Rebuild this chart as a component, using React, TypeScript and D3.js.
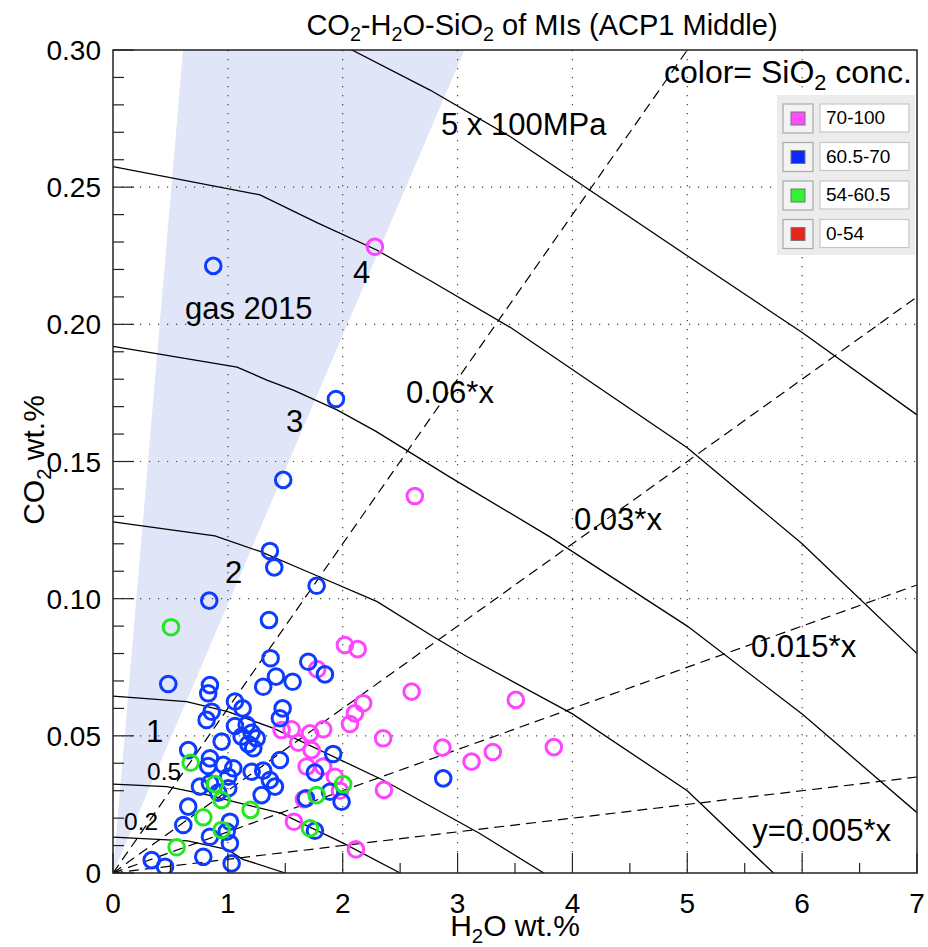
import React from "react";
import * as d3 from "d3";

const W = 928;
const H = 947;
const PLOT = { left: 113, right: 917, top: 50, bottom: 873 };

// axis ticks
const xTickValues = [0, 1, 2, 3, 4, 5, 6, 7];
const yTickValues = [0, 0.05, 0.1, 0.15, 0.2, 0.25, 0.3];
const yTickLabels = ["0", "0.05", "0.10", "0.15", "0.20", "0.25", "0.30"];
const xGrid = [1, 2, 3, 4, 5, 6];
const yGrid = [0.05, 0.1, 0.15, 0.2, 0.25];

// SiO2 classes (legend)
const classLabels = ["70-100", "60.5-70", "54-60.5", "0-54"];
const classSwatch = ["#ff4cff", "#0a28ff", "#33f233", "#e6281c"];

// gas 2015 wedge [H2O, CO2]
const gasRegion: [number, number][] = [
  [0, 0],
  [0.61, 0.3],
  [3.06, 0.3],
];

// CO2/H2O ratio lines
const ratioLines = [0.005, 0.015, 0.03, 0.06];

// isobars (x 100 MPa) [H2O, CO2]
const isobar02: [number, number][] = [[0, 0.0131], [0.65, 0.0117], [1.0, 0.0085], [1.13, 0.005], [1.5, 0]];
const isobar05: [number, number][] = [[0, 0.0324], [0.47, 0.0315], [0.85, 0.0282], [1.05, 0.026], [1.46, 0.0218], [2.0, 0.011], [2.5, 0]];
const isobar1: [number, number][] = [[0, 0.0645], [0.64, 0.0625], [1.0, 0.0588], [1.4, 0.0527], [2.35, 0.0339], [3.19, 0.0145], [3.75, 0]];
const isobar2: [number, number][] = [[0, 0.128], [0.887, 0.1229], [1.28, 0.1172], [1.74, 0.109], [2.3, 0.0989], [2.79, 0.0861], [3.08, 0.0789], [4.0, 0.058], [5.0, 0.03], [5.75, 0]];
const isobar3: [number, number][] = [[0, 0.192], [1.08, 0.1844], [1.34, 0.1797], [1.57, 0.176], [1.95, 0.1688], [2.29, 0.161], [2.93, 0.1444], [3.8, 0.1226], [5.0, 0.09], [6.0, 0.058], [7.0, 0.022]];
const isobar4: [number, number][] = [[0, 0.2575], [1.28, 0.2472], [1.78, 0.237], [2.3, 0.227], [2.76, 0.216], [3.455, 0.199], [5.0, 0.155], [6.0, 0.12], [7.0, 0.08]];
const isobar5: [number, number][] = [[0, 0.322], [1.28, 0.313], [2.08, 0.3], [2.76, 0.2854], [3.46, 0.2684], [5.0, 0.225], [6.0, 0.197], [7.0, 0.167]];

// melt inclusions [H2O wt.%, CO2 wt.%]
const si70to100: [number, number][] = [
  [2.28, 0.2283], [2.628, 0.1374], [2.019, 0.0831], [2.13, 0.0816], [1.778, 0.0743],
  [2.6, 0.0661], [2.178, 0.0619], [2.106, 0.0582], [2.063, 0.0543], [2.352, 0.0491],
  [1.555, 0.0524], [1.468, 0.0521], [1.715, 0.0509], [1.83, 0.0524], [1.613, 0.0475],
  [1.729, 0.0448], [2.869, 0.0457], [3.122, 0.0406], [1.686, 0.0388], [1.83, 0.0388],
  [1.932, 0.0351], [1.976, 0.03], [1.662, 0.0269], [2.359, 0.0303], [1.575, 0.0187],
  [2.115, 0.0086], [3.507, 0.0631], [3.838, 0.0459], [3.307, 0.0441],
];
const si60to70: [number, number][] = [
  [0.873, 0.2213], [1.941, 0.1728], [1.482, 0.1433], [1.366, 0.1174], [1.404, 0.1114],
  [1.773, 0.1047], [0.838, 0.0993], [1.358, 0.0922], [1.372, 0.0783], [1.308, 0.0679],
  [1.419, 0.0716], [0.481, 0.0689], [0.844, 0.0685], [0.829, 0.0655], [1.062, 0.0625],
  [1.129, 0.06], [1.477, 0.06], [0.859, 0.0588], [0.815, 0.0558], [1.062, 0.0536],
  [1.164, 0.054], [1.207, 0.0511], [1.251, 0.0491], [1.12, 0.0497], [1.178, 0.047],
  [1.221, 0.0455], [1.453, 0.0564], [0.946, 0.0479], [0.655, 0.0448], [0.844, 0.0418],
  [0.829, 0.039], [0.96, 0.0394], [1.047, 0.0382], [1.003, 0.0351], [1.207, 0.0369],
  [1.308, 0.0373], [1.366, 0.0339], [1.41, 0.0315], [0.757, 0.0315], [0.844, 0.0327],
  [0.916, 0.0293], [1.003, 0.0309], [1.294, 0.0284], [1.453, 0.0412], [0.655, 0.0242],
  [0.612, 0.0175], [0.844, 0.0132], [1.018, 0.0187], [0.99, 0.0151], [1.018, 0.0108],
  [0.786, 0.0059], [0.337, 0.0047], [0.453, 0.0023], [1.033, 0.0035], [1.7, 0.077],
  [1.845, 0.0724], [1.564, 0.0697], [1.917, 0.0434], [2.875, 0.0345], [1.758, 0.0366],
  [1.889, 0.0296], [1.99, 0.026], [1.68, 0.0272], [1.758, 0.0154],
];
const si54to60: [number, number][] = [
  [0.505, 0.0896], [0.676, 0.0402], [0.888, 0.0324], [0.946, 0.0266], [1.198, 0.023],
  [0.786, 0.0203], [0.946, 0.0157], [0.554, 0.0094], [2.004, 0.0324], [1.773, 0.0284],
  [1.715, 0.0163],
];

const pointColors = { hi: "#ff44ff", mid: "#0d3bff", low: "#22e822" };

const FONT = "'Liberation Sans', Arial, Helvetica, sans-serif";

type Part = string | { sub: string };

function T({ x, y, fs, anchor = "start", parts, rotate = 0 }: { x: number; y: number; fs: number; anchor?: string; parts: Part[]; rotate?: number }) {
  const tr = rotate ? `translate(${x},${y}) rotate(${rotate})` : `translate(${x},${y})`;
  const off = fs * 0.22;
  let prevSub = false;
  const kids = parts.map((p, i) => {
    if (typeof p === "string") {
      const el = (
        <tspan key={i} dy={prevSub ? -off : 0}>
          {p}
        </tspan>
      );
      prevSub = false;
      return el;
    }
    prevSub = true;
    return (
      <tspan key={i} fontSize={fs * 0.68} dy={off}>
        {p.sub}
      </tspan>
    );
  });
  return (
    <text transform={tr} fontSize={fs} textAnchor={anchor as any} fontFamily={FONT} fill="#000">
      {kids}
    </text>
  );
}

export default function App() {
  const x = d3.scaleLinear().domain([0, 7]).range([PLOT.left, PLOT.right]);
  const y = d3.scaleLinear().domain([0, 0.3]).range([PLOT.bottom, PLOT.top]);
  const line = d3
    .line<[number, number]>()
    .x((d) => x(d[0]))
    .y((d) => y(d[1]));

  const isobars = [isobar02, isobar05, isobar1, isobar2, isobar3, isobar4, isobar5];
  const yMinor = d3.range(0, 0.3001, 0.01);
  const xMinor = d3.range(0, 7.001, 0.5);

  const circles = (data: [number, number][], color: string, key: string) =>
    data.map((d, i) => (
      <circle key={key + i} cx={x(d[0])} cy={y(d[1])} r={7.8} fill="none" stroke={color} strokeWidth={3} />
    ));

  return (
    <svg width={W} height={H} style={{ position: "absolute", left: 0, top: 0, background: "#fff" }}>
      <defs>
        <clipPath id="plotClip">
          <rect x={PLOT.left} y={PLOT.top} width={PLOT.right - PLOT.left} height={PLOT.bottom - PLOT.top} />
        </clipPath>
      </defs>
      <rect x={0} y={0} width={W} height={H} fill="#fff" />
      <g clipPath="url(#plotClip)">
        <polygon points={gasRegion.map((d) => `${x(d[0])},${y(d[1])}`).join(" ")} fill="#e0e5f7" />
        {xGrid.map((v) => (
          <line key={"gx" + v} x1={x(v)} x2={x(v)} y1={PLOT.top} y2={PLOT.bottom} stroke="#444" strokeWidth={1.2} strokeDasharray="1.2,7.8" />
        ))}
        {yGrid.map((v) => (
          <line key={"gy" + v} x1={PLOT.left} x2={PLOT.right} y1={y(v)} y2={y(v)} stroke="#444" strokeWidth={1.2} strokeDasharray="1.2,7.8" />
        ))}
        {ratioLines.map((k) => (
          <line key={"r" + k} x1={x(0)} y1={y(0)} x2={x(7)} y2={y(7 * k)} stroke="#000" strokeWidth={1.2} strokeDasharray="10,6" />
        ))}
        {isobars.map((d, i) => (
          <path key={"iso" + i} d={line(d) || ""} fill="none" stroke="#000" strokeWidth={1.3} />
        ))}
        {circles(si70to100, pointColors.hi, "p")}
        {circles(si60to70, pointColors.mid, "b")}
        {circles(si54to60, pointColors.low, "g")}
      </g>

      {/* annotations */}
      <T x={185} y={319} fs={31} parts={["gas 2015"]} />
      <T x={353} y={283} fs={31} parts={["4"]} />
      <T x={441} y={135} fs={31} parts={["5 x 100MPa"]} />
      <T x={286} y={432} fs={31} parts={["3"]} />
      <T x={225} y={583} fs={31} parts={["2"]} />
      <T x={146} y={742} fs={31} parts={["1"]} />
      <T x={147} y={780} fs={24.5} parts={["0.5"]} />
      <T x={124} y={830} fs={24.5} parts={["0.2"]} />
      <T x={406} y={403} fs={31} parts={["0.06*x"]} />
      <T x={574} y={530} fs={31} parts={["0.03*x"]} />
      <T x={751} y={657} fs={31} parts={["0.015*x"]} />
      <T x={891} y={841} fs={31} anchor="end" parts={["y=0.005*x"]} />

      {/* frame and ticks */}
      {yMinor.map((v, i) => (
        <line key={"yt" + i} x1={PLOT.left} x2={PLOT.left + (i % 5 === 0 ? 21 : 11)} y1={y(v)} y2={y(v)} stroke="#222" strokeWidth={1.2} />
      ))}
      {xMinor.map((v, i) => (
        <line key={"xt" + i} x1={x(v)} x2={x(v)} y1={PLOT.bottom} y2={PLOT.bottom - (i % 2 === 0 ? 20 : 10)} stroke="#222" strokeWidth={1.2} />
      ))}
      <rect x={PLOT.left} y={PLOT.top} width={PLOT.right - PLOT.left} height={PLOT.bottom - PLOT.top} fill="none" stroke="#222" strokeWidth={1.5} />

      {/* tick labels */}
      {yTickValues.map((v, i) => (
        <T key={"yl" + i} x={101} y={y(v) + 10} fs={28} anchor="end" parts={[yTickLabels[i]]} />
      ))}
      {xTickValues.map((v) => (
        <T key={"xl" + v} x={x(v)} y={913} fs={28} anchor="middle" parts={[String(v)]} />
      ))}

      {/* titles */}
      <T x={542} y={35} fs={29} anchor="middle" parts={["CO", { sub: "2" }, "-H", { sub: "2" }, "O-SiO", { sub: "2" }, " of MIs (ACP1 Middle)"]} />
      <T x={515} y={936} fs={30} anchor="middle" parts={["H", { sub: "2" }, "O wt.%"]} />
      <T x={44} y={460} fs={30} anchor="middle" rotate={-90} parts={["CO", { sub: "2" }, " wt.%"]} />

      {/* legend */}
      <T x={664} y={83} fs={32} parts={["color= SiO", { sub: "2" }, " conc."]} />
      <rect x={777} y={95} width={138} height={160} fill="#ececec" />
      {classLabels.map((lab, i) => {
        const y0 = 104 + i * 38.5;
        return (
          <g key={"lg" + i}>
            <rect x={783} y={y0} width={30} height={29} fill="#f3f3f3" stroke="#a8a8a8" strokeWidth={1.2} />
            <rect x={791} y={y0 + 8} width={14} height={13} fill={classSwatch[i]} stroke="#777" strokeWidth={1} />
            <rect x={820} y={y0} width={89} height={28} fill="#fff" stroke="#c6c6c6" strokeWidth={1.2} />
            <T x={826} y={y0 + 20} fs={19} parts={[lab]} />
          </g>
        );
      })}
    </svg>
  );
}
